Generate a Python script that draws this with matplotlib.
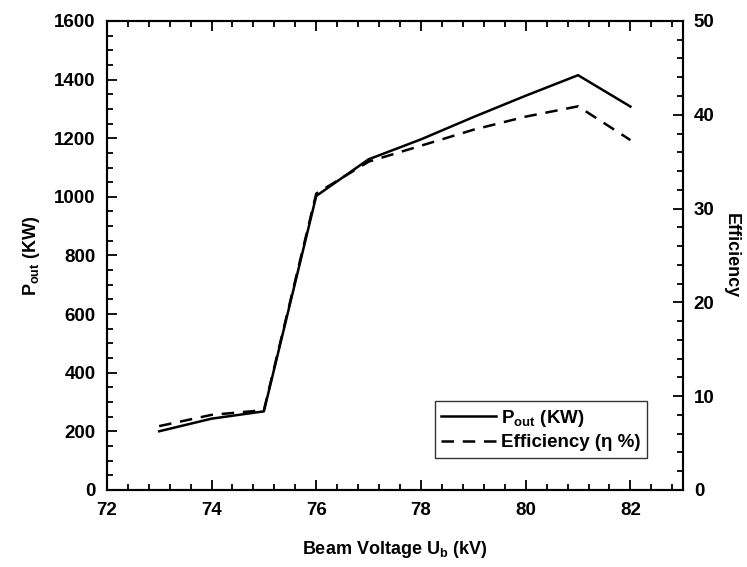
import matplotlib
matplotlib.use("Agg")
import matplotlib.pyplot as plt
from matplotlib.ticker import MultipleLocator

plt.rcParams['font.family'] = ['Liberation Sans', 'DejaVu Sans']
plt.rcParams['font.weight'] = 'bold'
plt.rcParams['mathtext.fontset'] = 'custom'
plt.rcParams['mathtext.rm'] = 'Liberation Sans:bold'
plt.rcParams['mathtext.bf'] = 'Liberation Sans:bold'
plt.rcParams['mathtext.it'] = 'Liberation Sans:bold'

voltage = [73, 74, 75, 76, 77, 78, 79, 80, 81, 82]
pout = [200, 243, 268, 1003, 1128, 1196, 1272, 1345, 1415, 1308]
efficiency = [6.8, 8.0, 8.5, 31.6, 35.0, 36.7, 38.4, 39.8, 40.9, 37.3]

fig = plt.figure(figsize=(7.47, 5.67), dpi=100)
ax = fig.add_axes([0.143, 0.136, 0.771, 0.827])
ax2 = ax.twinx()

l1, = ax.plot(voltage, pout, color='black', lw=1.8, label=r'P$_{\rm out}$ (KW)')
l2, = ax2.plot(voltage, efficiency, color='black', lw=1.8, ls=(0, (5, 3.5)),
               label='Efficiency (η %)')

ax.set_xlim(72, 83)
ax.set_ylim(0, 1600)
ax2.set_ylim(0, 50)

ax.xaxis.set_major_locator(MultipleLocator(2))
ax.xaxis.set_minor_locator(MultipleLocator(0.4))
ax.yaxis.set_major_locator(MultipleLocator(200))
ax.yaxis.set_minor_locator(MultipleLocator(50))
ax2.yaxis.set_major_locator(MultipleLocator(10))
ax2.yaxis.set_minor_locator(MultipleLocator(2))

ax.tick_params(axis='both', which='both', direction='in', width=1.3, labelsize=13.5)
ax.tick_params(axis='x', which='both', top=True)
ax.tick_params(axis='x', which='major', pad=9)
ax.tick_params(axis='y', which='major', pad=8)
ax.tick_params(which='major', length=7)
ax.tick_params(which='minor', length=4)
ax2.tick_params(axis='y', which='both', direction='in', width=1.3, labelsize=13.5)
ax2.tick_params(which='major', length=7, pad=8)
ax2.tick_params(which='minor', length=4)

for a in (ax, ax2):
    for s in a.spines.values():
        s.set_linewidth(1.5)

ax.set_xlabel(r'Beam Voltage U$_{\rm b}$ (kV)', fontsize=13, fontweight='bold', labelpad=14)
ax.set_ylabel(r'P$_{\rm out}$ (KW)', fontsize=13, fontweight='bold', labelpad=9)
ax2.set_ylabel('Efficiency', fontsize=13, fontweight='bold', rotation=-90, labelpad=18)

leg = ax.legend(handles=[l1, l2], loc='lower right', bbox_to_anchor=(0.955, 0.048),
                fontsize=13.5, frameon=True, fancybox=False, edgecolor='black',
                handlelength=2.9, handletextpad=0.3, borderpad=0.35, labelspacing=0.3)
leg.get_frame().set_linewidth(1.0)

fig.savefig('out.png', dpi=100)
